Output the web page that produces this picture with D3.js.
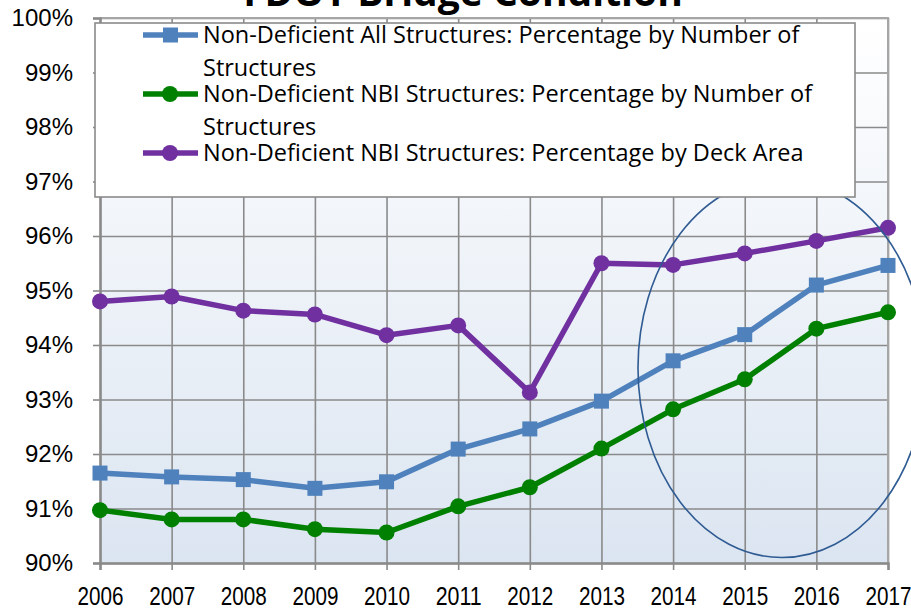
<!DOCTYPE html>
<html>
<head>
<meta charset="utf-8">
<script src="https://cdn.jsdelivr.net/npm/d3@7"></script>
<style>
  body { margin: 0; background: #fff; }
  svg { display: block; }
</style>
</head>
<body>
<script>
// data
var years = [2006, 2007, 2008, 2009, 2010, 2011, 2012, 2013, 2014, 2015, 2016, 2017];
var allByCount = [91.65, 91.58, 91.53, 91.37, 91.49, 92.09, 92.46, 92.97, 93.71, 94.19, 95.10, 95.46];
var nbiByCount = [90.97, 90.80, 90.80, 90.62, 90.56, 91.04, 91.39, 92.10, 92.82, 93.37, 94.30, 94.60];
var nbiByArea = [94.80, 94.89, 94.63, 94.56, 94.18, 94.36, 93.13, 95.50, 95.47, 95.68, 95.91, 96.15];
var seriesNames = [
  ["Non-Deficient All Structures: Percentage by Number of", "Structures"],
  ["Non-Deficient NBI Structures: Percentage by Number of", "Structures"],
  ["Non-Deficient NBI Structures: Percentage by Deck Area"]
];
var yTicks = [90, 91, 92, 93, 94, 95, 96, 97, 98, 99, 100];
var title = "FDOT Bridge Condition";
// highlighted area (the ellipse), in data units
var focus = { year: 2015.52, value: 93.58, yearRadius: 2.01, valueRadius: 3.48 };

var svgWidth = 911;
var svgHeight = 611;

var margin = {
  top: 18,
  bottom: 48,
  right: 23,
  left: 100
};

var chartWidth = svgWidth - margin.left - margin.right;
var chartHeight = svgHeight - margin.top - margin.bottom;

var svg = d3.select('body')
  .append('svg')
  .attr('width', svgWidth)
  .attr('height', svgHeight);

var defs = svg.append('defs');
var grad = defs.append('linearGradient')
  .attr('id', 'plotBg')
  .attr('x1', 0).attr('y1', 0).attr('x2', 0).attr('y2', 1);
grad.append('stop').attr('offset', '0%').attr('stop-color', '#ffffff');
grad.append('stop').attr('offset', '100%').attr('stop-color', '#dbe5f1');

var chartGroup = svg.append('g')
  .attr('transform', `translate(${margin.left},${margin.top})`);

// scales
var xScale = d3.scaleLinear()
  .domain([years[0], years[years.length - 1]])
  .range([0, chartWidth]);

var yScale = d3.scaleLinear()
  .domain([90, 100])
  .range([chartHeight, 0]);

// plot background
chartGroup.append('rect')
  .attr('width', chartWidth)
  .attr('height', chartHeight)
  .attr('fill', 'url(#plotBg)');

// grid lines
chartGroup.append('g')
  .attr('class', 'grid')
  .attr('transform', `translate(0,${chartHeight})`)
  .call(d3.axisBottom(xScale).tickValues(years).tickSize(-chartHeight).tickFormat(''))
  .call(g => g.select('.domain').remove());

chartGroup.append('g')
  .attr('class', 'grid')
  .call(d3.axisLeft(yScale).tickValues(yTicks).tickSize(-chartWidth).tickFormat(''))
  .call(g => g.select('.domain').remove());

chartGroup.selectAll('.grid line')
  .attr('stroke', '#8a8a8a')
  .attr('stroke-width', 1.6);

// frame top/right
chartGroup.append('path')
  .attr('d', `M0,0H${chartWidth}V${chartHeight}`)
  .attr('fill', 'none')
  .attr('stroke', '#a6a6a6')
  .attr('stroke-width', 2);

// axes
var xAxis = chartGroup.append('g')
  .attr('transform', `translate(0,${chartHeight})`)
  .call(d3.axisBottom(xScale).tickValues(years).tickFormat(d3.format('d')).tickSize(7).tickPadding(17));

var yAxis = chartGroup.append('g')
  .call(d3.axisLeft(yScale).tickValues(yTicks).tickFormat(d => d + '%').tickSize(7).tickPadding(20));

[xAxis, yAxis].forEach(a => {
  a.select('.domain').attr('stroke', '#8a8a8a').attr('stroke-width', 2.5);
  a.selectAll('.tick line').attr('stroke', '#8a8a8a').attr('stroke-width', 1.6);
});

// year labels are condensed in the source
xAxis.selectAll('text')
  .attr('font-family', '"Liberation Sans Narrow", "Liberation Sans", Arial, sans-serif')
  .attr('font-size', '25px')
  .attr('fill', '#000')
  .attr('dy', '0.71em')
  .attr('textLength', 46)
  .attr('lengthAdjust', 'spacingAndGlyphs');

yAxis.selectAll('text')
  .attr('font-family', '"Liberation Sans", Arial, sans-serif')
  .attr('font-size', '24px')
  .attr('fill', '#000');

// series
var series = [
  { values: allByCount, color: '#4f81bd', shape: 'square' },
  { values: nbiByCount, color: '#008000', shape: 'circle' },
  { values: nbiByArea, color: '#7030a0', shape: 'circle' }
];

var line = d3.line()
  .x(d => xScale(d.year))
  .y(d => yScale(d.value));

series.forEach(s => {
  var pts = years.map((yr, i) => ({ year: yr, value: s.values[i] }));
  chartGroup.append('path')
    .datum(pts)
    .attr('d', line)
    .attr('fill', 'none')
    .attr('stroke', s.color)
    .attr('stroke-width', 5.5)
    .attr('stroke-linejoin', 'round');

  if (s.shape === 'square') {
    chartGroup.selectAll(null)
      .data(pts)
      .enter()
      .append('rect')
      .attr('x', d => xScale(d.year) - 7.5)
      .attr('y', d => yScale(d.value) - 7.5)
      .attr('width', 15)
      .attr('height', 15)
      .attr('fill', s.color);
  } else {
    chartGroup.selectAll(null)
      .data(pts)
      .enter()
      .append('circle')
      .attr('cx', d => xScale(d.year))
      .attr('cy', d => yScale(d.value))
      .attr('r', 8)
      .attr('fill', s.color);
  }
});

// legend
var legend = svg.append('g');
legend.append('rect')
  .attr('x', 95)
  .attr('y', 23)
  .attr('width', 760)
  .attr('height', 174)
  .attr('fill', '#fff')
  .attr('stroke', '#8a8a8a')
  .attr('stroke-width', 1.6);

var legendY = [35, 94, 153];
series.forEach((s, i) => {
  var g = legend.append('g').attr('transform', `translate(0,${legendY[i]})`);
  g.append('line')
    .attr('x1', 143).attr('x2', 198)
    .attr('stroke', s.color)
    .attr('stroke-width', 5.5);
  if (s.shape === 'square') {
    g.append('rect').attr('x', 163).attr('y', -7.5).attr('width', 15).attr('height', 15).attr('fill', s.color);
  } else {
    g.append('circle').attr('cx', 170).attr('r', 8).attr('fill', s.color);
  }
  seriesNames[i].forEach((t, j) => {
    g.append('text')
      .attr('x', 203)
      .attr('y', j * 33)
      .attr('dy', '0.36em')
      .attr('font-family', '"Open Sans", sans-serif')
      .attr('font-size', '23.5px')
      .attr('fill', '#000')
      .text(t);
  });
});

// ellipse highlight
chartGroup.append('ellipse')
  .attr('cx', xScale(focus.year))
  .attr('cy', yScale(focus.value))
  .attr('rx', xScale(years[0] + focus.yearRadius) - xScale(years[0]))
  .attr('ry', yScale(90) - yScale(90 + focus.valueRadius))
  .attr('fill', 'none')
  .attr('stroke', '#2f5b93')
  .attr('stroke-width', 1.6);

// title, cut off at the top like the source image
svg.append('text')
  .attr('x', 463)
  .attr('y', 6)
  .attr('text-anchor', 'middle')
  .attr('font-family', '"Open Sans", sans-serif')
  .attr('font-weight', 'bold')
  .attr('font-size', '39px')
  .attr('fill', '#000')
  .text(title);
</script>
</body>
</html>
